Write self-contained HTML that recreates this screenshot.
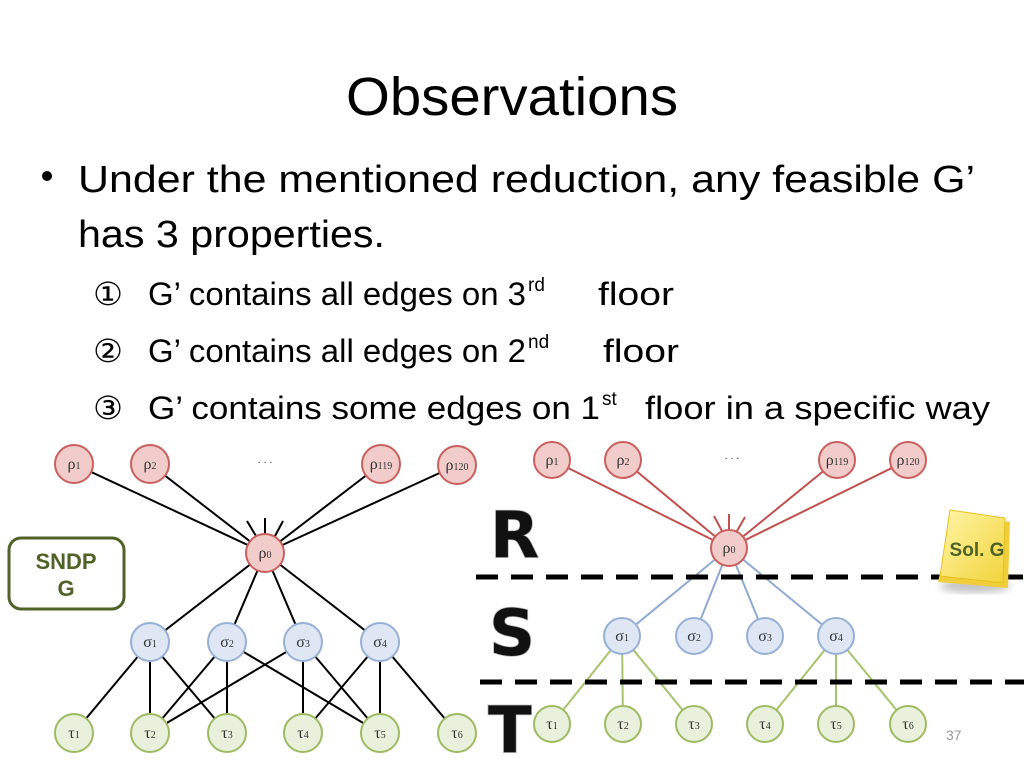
<!DOCTYPE html>
<html><head><meta charset="utf-8"><style>
html,body{margin:0;padding:0;background:#fff;}
svg{display:block;}
</style></head><body>
<svg width="1024" height="768" viewBox="0 0 1024 768" xmlns="http://www.w3.org/2000/svg">
<defs>
<linearGradient id="note" x1="0" y1="0" x2="1" y2="1">
<stop offset="0" stop-color="#fff6a8"/><stop offset="1" stop-color="#f2d43a"/>
</linearGradient>
<filter id="blur"><feGaussianBlur stdDeviation="4"/></filter>
</defs>
<g font-family="Liberation Sans, sans-serif" fill="#000">
<text x="512" y="115" font-size="54" text-anchor="middle" textLength="332" lengthAdjust="spacingAndGlyphs">Observations</text>
<circle cx="47" cy="176" r="5"/>
<text x="78" y="192" font-size="38" textLength="897" lengthAdjust="spacingAndGlyphs">Under the mentioned reduction, any feasible G’</text>
<text x="78" y="247" font-size="38" textLength="307" lengthAdjust="spacingAndGlyphs">has 3 properties.</text>
<g font-size="32">
<text x="93" y="305" font-size="32" font-family="DejaVu Sans, sans-serif" textLength="30" lengthAdjust="spacingAndGlyphs">①</text>
<text x="148" y="305" textLength="378" lengthAdjust="spacingAndGlyphs">G’ contains all edges on 3</text>
<text x="528" y="291" font-size="19">rd</text>
<text x="598" y="305" textLength="76" lengthAdjust="spacingAndGlyphs">floor</text>
<text x="93" y="362" font-size="32" font-family="DejaVu Sans, sans-serif" textLength="30" lengthAdjust="spacingAndGlyphs">②</text>
<text x="148" y="362" textLength="378" lengthAdjust="spacingAndGlyphs">G’ contains all edges on 2</text>
<text x="528" y="348" font-size="19">nd</text>
<text x="603" y="362" textLength="76" lengthAdjust="spacingAndGlyphs">floor</text>
<text x="93" y="419" font-size="32" font-family="DejaVu Sans, sans-serif" textLength="30" lengthAdjust="spacingAndGlyphs">③</text>
<text x="148" y="419" textLength="452" lengthAdjust="spacingAndGlyphs">G’ contains some edges on 1</text>
<text x="602" y="405" font-size="19">st</text>
<text x="645" y="419" textLength="345" lengthAdjust="spacingAndGlyphs">floor in a specific way</text>
</g>
</g>

<rect x="9" y="538" width="115" height="71" rx="12" fill="none" stroke="#4f6228" stroke-width="3"/>
<g font-family="Liberation Sans, sans-serif" font-weight="bold" font-size="22" fill="#4f6228" text-anchor="middle">
<text x="66" y="569">SNDP</text><text x="66" y="596">G</text>
</g>

<g stroke="#000" stroke-width="2">
<line x1="74" y1="464" x2="265" y2="553"/>
<line x1="150" y1="464" x2="265" y2="553"/>
<line x1="381" y1="464" x2="265" y2="553"/>
<line x1="457" y1="465" x2="265" y2="553"/>
<line x1="247" y1="521" x2="256" y2="536"/>
<line x1="265" y1="518" x2="265" y2="534"/>
<line x1="283" y1="521" x2="275" y2="536"/>
<line x1="265" y1="553" x2="150" y2="642"/>
<line x1="265" y1="553" x2="227" y2="642"/>
<line x1="265" y1="553" x2="303" y2="642"/>
<line x1="265" y1="553" x2="380" y2="642"/>
<line x1="150" y1="642" x2="74" y2="733"/>
<line x1="150" y1="642" x2="150" y2="733"/>
<line x1="150" y1="642" x2="227" y2="733"/>
<line x1="227" y1="642" x2="150" y2="733"/>
<line x1="227" y1="642" x2="227" y2="733"/>
<line x1="227" y1="642" x2="380" y2="733"/>
<line x1="303" y1="642" x2="150" y2="733"/>
<line x1="303" y1="642" x2="303" y2="733"/>
<line x1="303" y1="642" x2="380" y2="733"/>
<line x1="380" y1="642" x2="303" y2="733"/>
<line x1="380" y1="642" x2="380" y2="733"/>
<line x1="380" y1="642" x2="457" y2="733"/>
</g>

<g stroke-width="2">
<g stroke="#c0504d">
<line x1="552" y1="460" x2="729" y2="548"/>
<line x1="623" y1="460" x2="729" y2="548"/>
<line x1="837" y1="460" x2="729" y2="548"/>
<line x1="908" y1="460" x2="729" y2="548"/>
<line x1="714" y1="516" x2="722" y2="531"/>
<line x1="729" y1="514" x2="729" y2="530"/>
<line x1="745" y1="517" x2="737" y2="531"/>
</g>
<g stroke="#8eaad3">
<line x1="729" y1="548" x2="622" y2="636"/>
<line x1="729" y1="548" x2="694" y2="636"/>
<line x1="729" y1="548" x2="765" y2="636"/>
<line x1="729" y1="548" x2="836" y2="636"/>
</g>
<g stroke="#a6c46e">
<line x1="622" y1="636" x2="552" y2="724"/>
<line x1="622" y1="636" x2="623" y2="724"/>
<line x1="622" y1="636" x2="694" y2="724"/>
<line x1="836" y1="636" x2="765" y2="724"/>
<line x1="836" y1="636" x2="836" y2="724"/>
<line x1="836" y1="636" x2="908" y2="724"/>
</g>
</g>

<g stroke="#000" stroke-width="5" stroke-dasharray="22,13">
<line x1="476" y1="577" x2="1024" y2="577"/>
<line x1="480" y1="682" x2="1024" y2="682"/>
</g>

<ellipse cx="975" cy="586" rx="35" ry="7" fill="#888" opacity="0.5" filter="url(#blur)"/>
<polygon points="953,512 1010,522 1008,588 938,582" fill="#f0cf3a"/>
<polygon points="950,510 1005,518 1003,583 940,576" fill="url(#note)" stroke="#e6c020" stroke-width="1"/>
<text x="977" y="556" font-family="Liberation Sans, sans-serif" font-weight="bold" font-size="19" fill="#4f6228" text-anchor="middle">Sol. G</text>

<g font-family="DejaVu Sans, Liberation Sans, sans-serif" font-weight="bold" font-size="64" fill="#111" stroke="#bbb" stroke-width="1.5" paint-order="stroke">
<text x="490" y="557">R</text>
<text x="489" y="655">S</text>
<text x="488" y="752">T</text>
</g>

<g font-family="Liberation Serif, serif" font-size="16" text-anchor="middle" fill="#333">
<g stroke-width="2">
<g fill="#f2cccb" stroke="#c9605d">
<circle cx="74" cy="464" r="19"/><circle cx="150" cy="464" r="19"/><circle cx="381" cy="464" r="19"/><circle cx="457" cy="465" r="19"/><circle cx="265" cy="553" r="19"/>
<circle cx="552" cy="460" r="18"/><circle cx="623" cy="460" r="18"/><circle cx="837" cy="460" r="18"/><circle cx="908" cy="460" r="18"/><circle cx="729" cy="548" r="18"/>
</g>
<g fill="#dfe7f5" stroke="#97b0d6">
<circle cx="150" cy="642" r="19"/><circle cx="227" cy="642" r="19"/><circle cx="303" cy="642" r="19"/><circle cx="380" cy="642" r="19"/>
<circle cx="622" cy="636" r="18"/><circle cx="694" cy="636" r="18"/><circle cx="765" cy="636" r="18"/><circle cx="836" cy="636" r="18"/>
</g>
<g fill="#e9f0dc" stroke="#9dbb62">
<circle cx="74" cy="733" r="19"/><circle cx="150" cy="733" r="19"/><circle cx="227" cy="733" r="19"/><circle cx="303" cy="733" r="19"/><circle cx="380" cy="733" r="19"/><circle cx="457" cy="733" r="19"/>
<circle cx="552" cy="724" r="18"/><circle cx="623" cy="724" r="18"/><circle cx="694" cy="724" r="18"/><circle cx="765" cy="724" r="18"/><circle cx="836" cy="724" r="18"/><circle cx="908" cy="724" r="18"/>
</g>
</g>
<g>
<text x="74" y="469">ρ<tspan font-size="10">1</tspan></text>
<text x="150" y="469">ρ<tspan font-size="10">2</tspan></text>
<text x="381" y="469">ρ<tspan font-size="10">119</tspan></text>
<text x="457" y="470">ρ<tspan font-size="10">120</tspan></text>
<text x="265" y="558">ρ<tspan font-size="10">0</tspan></text>
<text x="265" y="466" font-size="10">· · ·</text>
<text x="150" y="647">σ<tspan font-size="10">1</tspan></text>
<text x="227" y="647">σ<tspan font-size="10">2</tspan></text>
<text x="303" y="647">σ<tspan font-size="10">3</tspan></text>
<text x="380" y="647">σ<tspan font-size="10">4</tspan></text>
<text x="74" y="738">τ<tspan font-size="10">1</tspan></text>
<text x="150" y="738">τ<tspan font-size="10">2</tspan></text>
<text x="227" y="738">τ<tspan font-size="10">3</tspan></text>
<text x="303" y="738">τ<tspan font-size="10">4</tspan></text>
<text x="380" y="738">τ<tspan font-size="10">5</tspan></text>
<text x="457" y="738">τ<tspan font-size="10">6</tspan></text>

<text x="552" y="465">ρ<tspan font-size="10">1</tspan></text>
<text x="623" y="465">ρ<tspan font-size="10">2</tspan></text>
<text x="837" y="465">ρ<tspan font-size="10">119</tspan></text>
<text x="908" y="465">ρ<tspan font-size="10">120</tspan></text>
<text x="729" y="553">ρ<tspan font-size="10">0</tspan></text>
<text x="732" y="462" font-size="10">· · ·</text>
<text x="622" y="641">σ<tspan font-size="10">1</tspan></text>
<text x="694" y="641">σ<tspan font-size="10">2</tspan></text>
<text x="765" y="641">σ<tspan font-size="10">3</tspan></text>
<text x="836" y="641">σ<tspan font-size="10">4</tspan></text>
<text x="552" y="729">τ<tspan font-size="10">1</tspan></text>
<text x="623" y="729">τ<tspan font-size="10">2</tspan></text>
<text x="694" y="729">τ<tspan font-size="10">3</tspan></text>
<text x="765" y="729">τ<tspan font-size="10">4</tspan></text>
<text x="836" y="729">τ<tspan font-size="10">5</tspan></text>
<text x="908" y="729">τ<tspan font-size="10">6</tspan></text>
</g>
</g>
<text x="946" y="740" font-family="Liberation Sans, sans-serif" font-size="14" fill="#999">37</text>
</svg>
</body></html>
